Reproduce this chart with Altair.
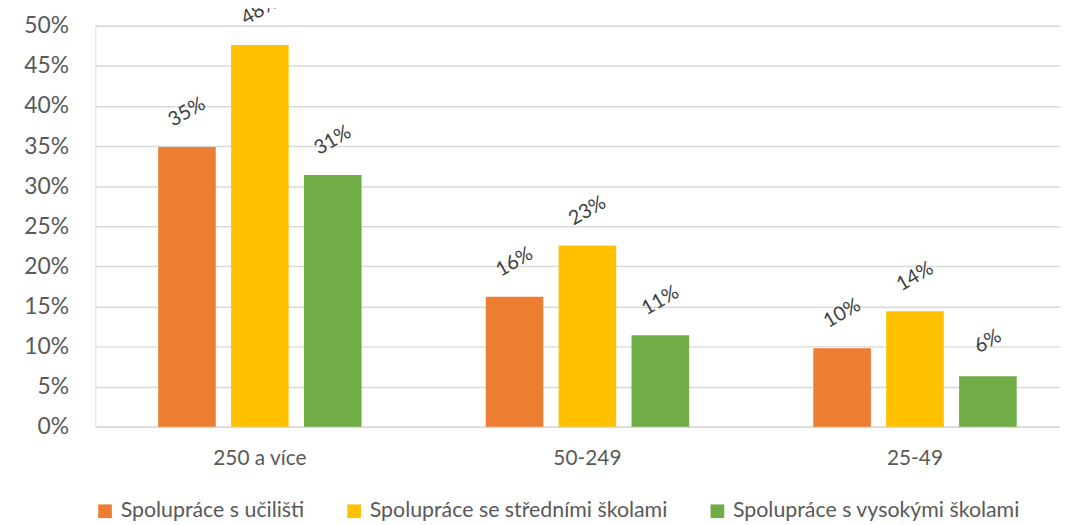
import altair as alt
import pandas as pd

categories = ["250 a více", "50-249", "25-49"]
series = ["Spolupráce s učilišti", "Spolupráce se středními školami", "Spolupráce s vysokými školami"]
colors = ["#ED7D31", "#FFC000", "#70AD47"]
val_uciliste = [0.349, 0.162, 0.098]
val_stredni = [0.476, 0.226, 0.144]
val_vysoke = [0.314, 0.114, 0.063]

rows = []
for s, vals in zip(series, [val_uciliste, val_stredni, val_vysoke]):
    for c, v in zip(categories, vals):
        rows.append({"cat": c, "series": s, "value": v})
df = pd.DataFrame(rows)

FONT = "Lato"
TXT = "#595959"

xscale = alt.Scale(paddingInner=0.379, paddingOuter=0.162, align=0.592)
x = alt.X("cat:N", sort=categories, title=None, scale=xscale,
          axis=alt.Axis(labelAngle=0, labelFontSize=21, labelColor=TXT, labelFont=FONT,
                        ticks=False, domainColor="#d9d9d9", domainWidth=1.5, labelPadding=21))
xo = alt.XOffset("series:N", sort=series, scale=alt.Scale(paddingInner=0.21, paddingOuter=0))
y = alt.Y("value:Q", title=None,
          scale=alt.Scale(domain=[0, 0.5], nice=False),
          axis=alt.Axis(values=[i * 0.05 for i in range(11)], format=".0%", labelFontSize=23,
                        labelColor=TXT, labelFont=FONT, ticks=False, domain=False,
                        labelPadding=27, gridColor="#d9d9d9", gridWidth=1.5))
color = alt.Color("series:N", sort=series,
                  scale=alt.Scale(domain=series, range=colors),
                  legend=alt.Legend(title=None, orient="none", legendX=-1, legendY=478,
                                    direction="horizontal", columns=3, columnPadding=39,
                                    symbolType="square", symbolSize=190, symbolStrokeWidth=0,
                                    labelFontSize=21.5, labelColor=TXT, labelFont=FONT,
                                    labelOffset=5, labelLimit=0, padding=0))

bars = alt.Chart(df).mark_bar().encode(x=x, xOffset=xo, y=y, color=color)
labels = alt.Chart(df).mark_text(angle=330, align="center", baseline="middle",
                                 dx=17.5, dy=-30.3, fontSize=20, font=FONT,
                                 color="#404040").encode(
    x=alt.X("cat:N", sort=categories),
    xOffset=alt.XOffset("series:N", sort=series),
    y=alt.Y("value:Q"),
    text=alt.Text("value:Q", format=".0%"),
)

chart = alt.layer(bars, labels).properties(
    width=972, height=404,
    autosize=alt.AutoSizeParams(type="none"),
    padding={"left": 88, "top": 16, "right": 0, "bottom": 93},
).configure_view(stroke=None).configure(background="white")

chart.save("out.html", embed_options={"renderer": "svg", "actions": False})
